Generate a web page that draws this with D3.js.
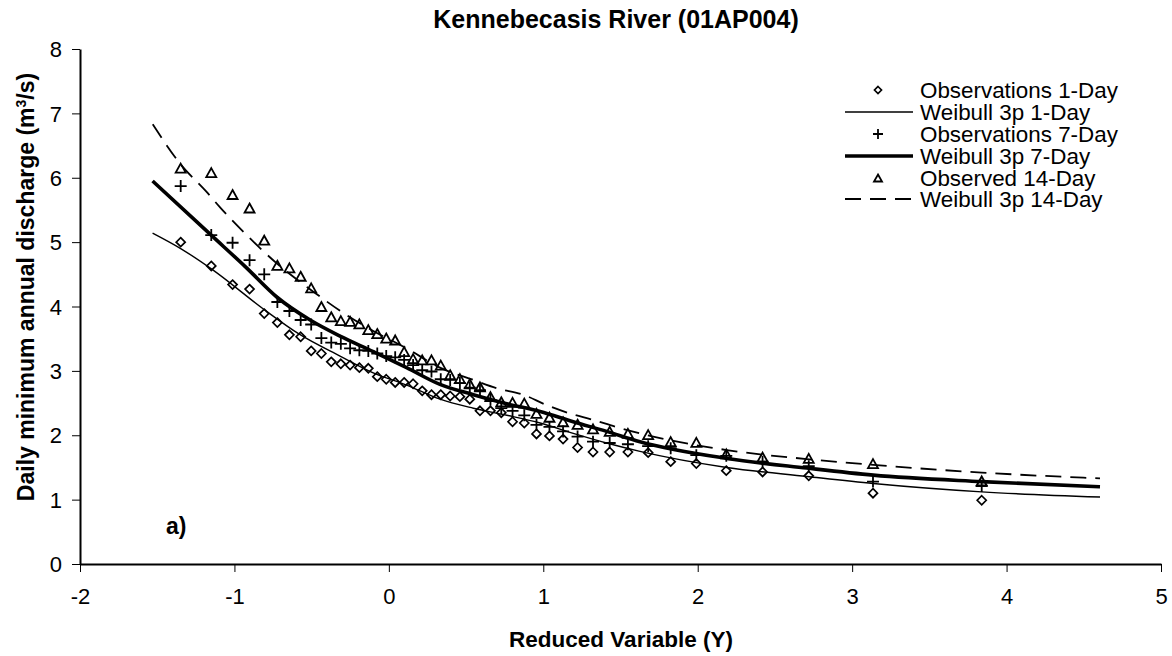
<!DOCTYPE html>
<html>
<head>
<meta charset="utf-8">
<script src="https://cdn.jsdelivr.net/npm/d3@7"></script>
<style>
  html, body { margin: 0; padding: 0; background: #fff; }
  svg { display: block; font-family: "Liberation Sans", Arial, sans-serif; }
</style>
</head>
<body>
<svg id="chart" width="1172" height="656"></svg>
<script>
// ---- Data ----
const reducedVariable = [-1.348,-1.150,-1.012,-0.902,-0.807,-0.722,-0.644,-0.571,-0.503,-0.437,
  -0.373,-0.311,-0.251,-0.191,-0.133,-0.075,-0.017,0.041,0.099,0.157,
  0.216,0.276,0.336,0.397,0.460,0.524,0.590,0.658,0.728,0.801,
  0.877,0.956,1.040,1.128,1.222,1.322,1.430,1.548,1.679,1.825,
  1.991,2.185,2.420,2.719,3.135,3.839];

const obs1Day = [5.00,4.63,4.34,4.27,3.89,3.75,3.56,3.53,3.31,3.27,
  3.14,3.11,3.09,3.05,3.04,2.91,2.87,2.82,2.82,2.80,
  2.69,2.63,2.63,2.61,2.60,2.56,2.38,2.38,2.35,2.21,
  2.19,2.02,1.99,1.94,1.81,1.74,1.74,1.74,1.73,1.59,
  1.56,1.45,1.43,1.37,1.10,0.99];

const obs7Day = [5.87,5.11,4.99,4.72,4.50,4.07,3.93,3.79,3.72,3.51,
  3.44,3.42,3.35,3.32,3.31,3.27,3.23,3.21,3.17,3.09,
  3.01,2.99,2.87,2.86,2.81,2.74,2.70,2.55,2.42,2.38,
  2.31,2.16,2.13,2.06,1.98,1.90,1.88,1.86,1.83,1.80,
  1.69,1.68,1.59,1.52,1.28,1.21];

const obs14Day = [6.15,6.08,5.74,5.53,5.03,4.64,4.60,4.47,4.29,4.00,
  3.84,3.78,3.77,3.73,3.64,3.58,3.51,3.48,3.30,3.19,
  3.17,3.17,3.09,2.94,2.88,2.80,2.75,2.60,2.52,2.51,
  2.50,2.34,2.28,2.21,2.17,2.10,2.06,2.03,2.01,1.90,
  1.89,1.71,1.66,1.64,1.56,1.29];

const fit1DayX = [-1.53,-1.348,-1.147,-0.806,-0.58,-0.316,-0.101,0.115,0.331,0.547,0.763,0.979,1.194,1.410,1.626,2.188,2.706,3.137,3.839,4.605];
const fit1DayY = [5.14,4.90,4.58,3.95,3.57,3.23,2.97,2.78,2.56,2.42,2.31,2.19,2.03,1.88,1.75,1.50,1.36,1.25,1.12,1.04];

const fit7DayX = [-1.53,-1.147,-0.93,-0.722,-0.51,-0.316,-0.101,0.115,0.331,0.547,0.763,0.979,1.194,1.410,1.626,2.188,2.706,3.137,3.839,4.605];
const fit7DayY = [5.95,5.10,4.62,4.14,3.79,3.54,3.30,3.05,2.79,2.63,2.49,2.37,2.21,2.06,1.90,1.64,1.49,1.38,1.28,1.20];

const fit14DayX = [-1.529,-1.352,-1.18,-1.093,-0.921,-0.726,-0.489,-0.295,-0.101,0.115,0.331,0.547,0.70,0.87,1.02,1.17,1.32,1.47,1.64,2.188,2.706,3.137,3.839,4.605];
const fit14DayY = [6.83,6.22,5.78,5.54,5.11,4.67,4.23,3.90,3.62,3.35,3.05,2.86,2.73,2.63,2.47,2.34,2.24,2.13,2.02,1.77,1.63,1.54,1.42,1.33];

const xTicks = [-2,-1,0,1,2,3,4,5];
const yTicks = [0,1,2,3,4,5,6,7,8];

const titleText = "Kennebecasis River (01AP004)";
const xTitle = "Reduced Variable (Y)";
const legendLabels = ["Observations 1-Day","Weibull 3p 1-Day","Observations 7-Day","Weibull 3p 7-Day","Observed 14-Day","Weibull 3p 14-Day"];

// ---- Layout ----
const svg = d3.select("#chart");
const pLeft = 80, pRight = 1161, pTop = 49, pBottom = 564;
const x = d3.scaleLinear().domain([-2,5]).range([pLeft,pRight]);
const y = d3.scaleLinear().domain([0,8]).range([pBottom,pTop]);

// Axes
const yAxis = d3.axisLeft(y).tickValues(yTicks).tickSize(8).tickSizeOuter(0).tickPadding(10).tickFormat(d => String(d));
const gy = svg.append("g").attr("transform",`translate(${pLeft},0)`).call(yAxis);
const xAxis = d3.axisBottom(x).tickValues(xTicks).tickSize(8).tickSizeOuter(0).tickPadding(16).tickFormat(d => String(d));
const gx = svg.append("g").attr("transform",`translate(0,${pBottom})`).call(xAxis);
[gx,gy].forEach(g => {
  g.select(".domain").attr("stroke","#000").attr("stroke-width",2);
  g.selectAll(".tick line").attr("stroke","#000").attr("stroke-width",1);
  g.selectAll(".tick text").attr("fill","#000").style("font-size","22px").style("font-family","'Liberation Sans', Arial, sans-serif");
});
gy.selectAll(".tick text").attr("dy","0.35em");

// Lines
const line = d3.line().x(d => x(d[0])).y(d => y(d[1])).curve(d3.curveMonotoneX);
const zipXY = (xs, ys) => xs.map((v,i) => [v, ys[i]]);
svg.append("path").attr("d", line(zipXY(fit1DayX, fit1DayY)))
  .attr("fill","none").attr("stroke","#000").attr("stroke-width",1.4);
svg.append("path").attr("d", line(zipXY(fit7DayX, fit7DayY)))
  .attr("fill","none").attr("stroke","#000").attr("stroke-width",3.6);
svg.append("path").attr("d", line(zipXY(fit14DayX, fit14DayY)))
  .attr("fill","none").attr("stroke","#000").attr("stroke-width",1.8).attr("stroke-dasharray","16,9");

// Markers
const diamondPath = "M0,-4.5L4.5,0L0,4.5L-4.5,0Z";
const plusPath = "M-6,0H6M0,-6V6";
const trianglePath = "M0,-4.5L5,4.5L-5,4.5Z";

function drawMarkers(vals, path, sw) {
  svg.append("g").selectAll("path").data(vals).join("path")
    .attr("transform",(d,i) => `translate(${x(reducedVariable[i])},${y(d)})`)
    .attr("d", path).attr("fill","none").attr("stroke","#000").attr("stroke-width", sw);
}
drawMarkers(obs1Day, diamondPath, 1.7);
drawMarkers(obs7Day, plusPath, 1.8);
drawMarkers(obs14Day, trianglePath, 1.8);

// Title and axis titles
svg.append("text").attr("x",616).attr("y",28).attr("text-anchor","middle")
  .style("font-size","25px").style("font-weight","bold").text(titleText);
svg.append("text").attr("x",621).attr("y",647).attr("text-anchor","middle")
  .style("font-size","22.5px").style("font-weight","bold").text(xTitle);
const yt = svg.append("text").attr("transform","translate(34,287) rotate(-90)").attr("text-anchor","middle")
  .style("font-size","23px").style("font-weight","bold");
yt.append("tspan").text("Daily minimum annual discharge (m");
yt.append("tspan").attr("baseline-shift","super").style("font-size","14px").text("3");
yt.append("tspan").text("/s)");

svg.append("text").attr("x",166).attr("y",534).style("font-size","23px").style("font-weight","bold").text("a)");

// Legend
const legRows = [90,112,134,156,178,199];
const lg = svg.append("g");
legendLabels.forEach((lab,i) => {
  const ry = legRows[i];
  if (i === 0) lg.append("path").attr("transform",`translate(878,${ry})`).attr("d","M0,-3.5L3.5,0L0,3.5L-3.5,0Z").attr("fill","none").attr("stroke","#000").attr("stroke-width",1.7);
  if (i === 2) lg.append("path").attr("transform",`translate(878,${ry})`).attr("d","M-5,0H5M0,-5V5").attr("fill","none").attr("stroke","#000").attr("stroke-width",1.8);
  if (i === 4) lg.append("path").attr("transform",`translate(878,${ry})`).attr("d","M0,-3.5L4,3.5L-4,3.5Z").attr("fill","none").attr("stroke","#000").attr("stroke-width",1.8);
  if (i === 1) lg.append("line").attr("x1",845).attr("x2",913).attr("y1",ry).attr("y2",ry).attr("stroke","#000").attr("stroke-width",1.4);
  if (i === 3) lg.append("line").attr("x1",845).attr("x2",913).attr("y1",ry).attr("y2",ry).attr("stroke","#000").attr("stroke-width",3.6);
  if (i === 5) lg.append("line").attr("x1",845).attr("x2",913).attr("y1",ry).attr("y2",ry).attr("stroke","#000").attr("stroke-width",1.8).attr("stroke-dasharray","16,9");
  lg.append("text").attr("x",920).attr("y",ry).attr("dy","0.35em").style("font-size","22.4px").text(lab);
});
</script>
</body>
</html>
